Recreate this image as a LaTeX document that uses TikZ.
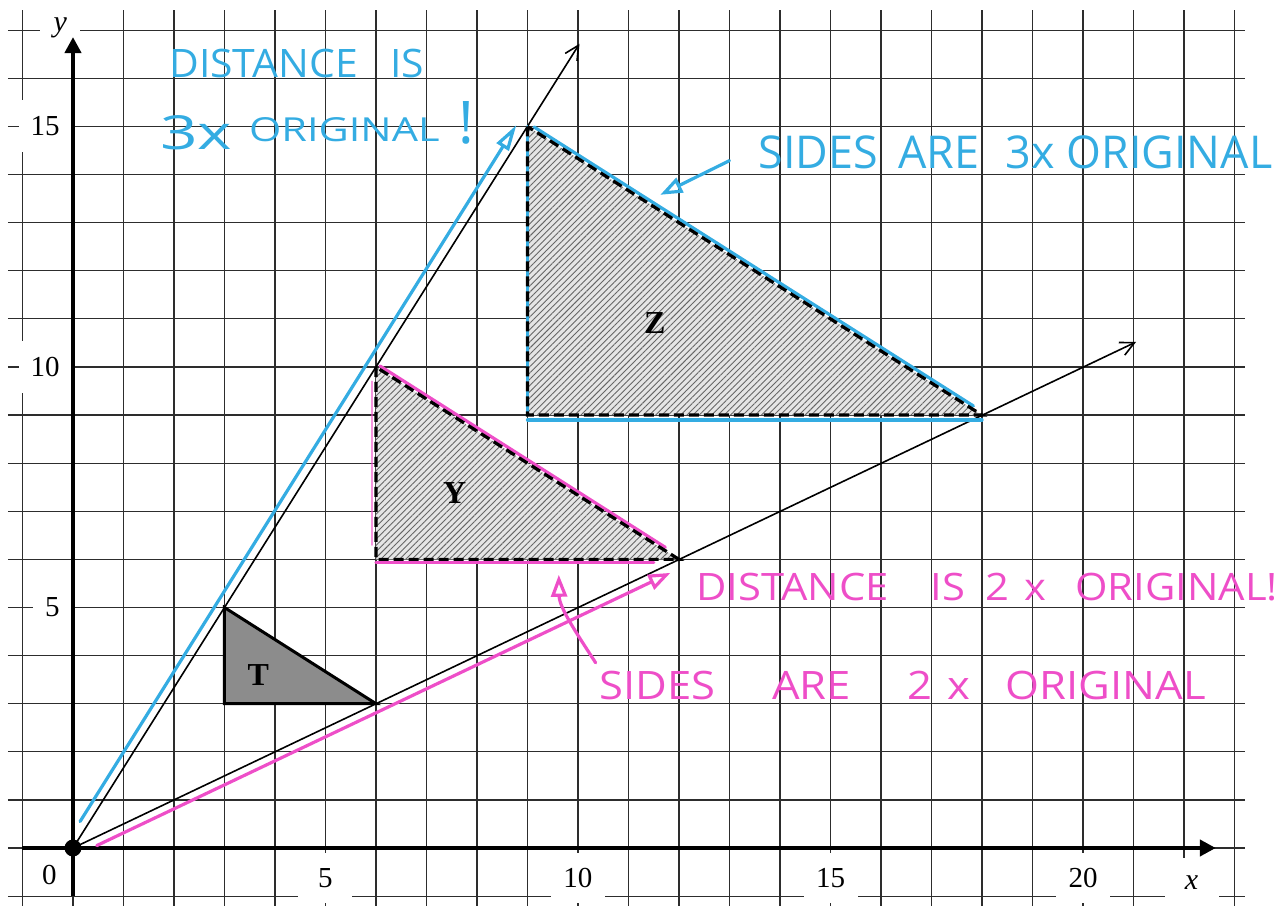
\documentclass[tikz,border=0pt]{standalone}
\usepackage{graphicx}
\usepackage{fontspec}
\setmainfont{Liberation Serif}
\newfontfamily\hand{Open Sans}
\usetikzlibrary{arrows.meta,patterns.meta}
\definecolor{penblue}{RGB}{52,172,226}
\definecolor{penpink}{RGB}{238,78,200}
\definecolor{gridc}{RGB}{45,45,45}
\begin{document}
\begin{tikzpicture}[x=25.25pt,y=24.05pt,
  gridline/.style={gridc,line width=0.6pt},
  axisline/.style={black,line width=2pt,-{Triangle[length=8pt,width=8pt]}},
  ray/.style={black,line width=0.8pt,-{Straight Barb[length=7pt,width=7pt]}},
  bluepen/.style={penblue,line width=1.6pt,line cap=round},
  pinkpen/.style={penpink,line width=1.6pt,line cap=round},
  hatchfill/.style={pattern={Lines[angle=45,distance=2.2pt,line width=0.45pt]},pattern color=black!60},
  dashedge/.style={black,line width=1.6pt,dash pattern=on 5pt off 2.5pt},
  ticklab/.style={font=\fontsize{14.5}{16}\selectfont,fill=white,inner sep=0pt,minimum width=27pt,minimum height=25pt},
  ylab/.style={font=\fontsize{14.5}{16}\selectfont,fill=white,anchor=east,inner xsep=6pt,inner ysep=0pt,minimum height=26pt},
  shapelab/.style={font=\fontsize{16}{18}\selectfont\bfseries},
  handtext/.style={inner sep=0pt,anchor=south west,font=\hand},
]
\useasboundingbox (-1.4455,-1.268) rectangle (24.04,17.63);

% grid
\foreach \i in {-1,...,23} \draw[gridline] (\i,-1.2) -- (\i,17.42);
\foreach \j in {-1,...,17} \draw[gridline] (-1.29,\j) -- (23.2,\j);

% key points
\coordinate (O) at (0,0);
\coordinate (T1) at (3,5);
\coordinate (T2) at (3,3);
\coordinate (T3) at (6,3);
\coordinate (Y1) at (6,10);
\coordinate (Y2) at (6,6);
\coordinate (Y3) at (12,6);
\coordinate (Z1) at (9,15);
\coordinate (Z2) at (9,9);
\coordinate (Z3) at (18,9);
\coordinate (R1) at (10.03,16.72);
\coordinate (R2) at (21.05,10.52);
\coordinate (XA0) at (-1.0,0);
\coordinate (XA1) at (22.63,0);
\coordinate (YA0) at (0,-1.0);
\coordinate (YA1) at (0,16.86);

% tick labels
\node[font=\fontsize{14.5}{16}\selectfont,inner sep=0pt] (l0) at (-0.47,-0.56) {0};
\node[ticklab] (lx5) at (5,-0.62) {5};
\node[ticklab] (lx10) at (10,-0.62) {10};
\node[ticklab] (lx15) at (15,-0.62) {15};
\node[ticklab] (lx20) at (20,-0.62) {20};
\node[ticklab,font=\fontsize{15}{17}\selectfont\itshape] (lxx) at (22.15,-0.72) {x};
\node[ylab] (ly5) at (-0.02,5) {5};
\node[ylab] (ly10) at (-0.02,10) {10};
\node[ylab] (ly15) at (-0.02,15) {15};
\node[fill=white,inner sep=0pt,minimum width=20pt,minimum height=19pt,font=\fontsize{15}{17}\selectfont\itshape] (lyy) at (-0.25,17.05) {y};

% fills
\fill[black!10] (Y1) -- (Y2) -- (Y3) -- cycle;
\fill[hatchfill] (Y1) -- (Y2) -- (Y3) -- cycle;
\fill[black!10] (Z1) -- (Z2) -- (Z3) -- cycle;
\fill[hatchfill] (Z1) -- (Z2) -- (Z3) -- cycle;
\fill[black!45] (T1) -- (T2) -- (T3) -- cycle;

% axes
\draw[axisline] (XA0) -- (XA1);
\draw[axisline] (YA0) -- (YA1);

% rays
\draw[ray] (O) -- (R1);
\draw[ray] (O) -- (R2);

% pen lines
\coordinate (B0) at (0.14,0.55);
\coordinate (B1) at (8.78,15.03);
\coordinate (P0) at (0.47,0.05);
\coordinate (P1) at (11.83,5.72);
\draw[bluepen,-{Triangle[open,length=13pt,width=7pt]}] (B0) -- (B1);
\draw[pinkpen,-{Triangle[open,length=11pt,width=8pt]}] (P0) -- (P1);

\coordinate (BH0) at (9.13,14.99);
\coordinate (BH1) at (17.83,9.19);
\coordinate (BB0) at (9.0,8.9);
\coordinate (BB1) at (18.0,8.9);
\draw[bluepen] (BH0) -- (BH1);
\draw[bluepen] (BB0) -- (BB1);
\draw[bluepen] (Z1) -- (Z2);

\coordinate (PH0) at (6.08,10.02);
\coordinate (PH1) at (11.73,6.25);
\coordinate (PB0) at (6.0,5.94);
\coordinate (PB1) at (11.5,5.94);
\coordinate (PL0) at (5.92,9.7);
\coordinate (PL1) at (5.92,6.3);
\draw[pinkpen] (PH0) -- (PH1);
\draw[pinkpen] (PB0) -- (PB1);
\draw[pinkpen,line width=0.9pt,opacity=0.6] (PL0) -- (PL1);

% outlines
\draw[dashedge] (Y1) -- (Y2) -- (Y3) -- cycle;
\draw[dashedge] (Z1) -- (Z2) -- (Z3) -- cycle;
\draw[black,line width=1.5pt,line join=miter] (T1) -- (T2) -- (T3) -- cycle;

% shape labels
\node[shapelab] (labT) at (3.67,3.6) {T};
\node[shapelab] (labY) at (7.56,7.37) {Y};
\node[shapelab] (labZ) at (11.52,10.91) {Z};

% origin dot
\node[circle,fill=black,inner sep=0pt,minimum size=8.5pt] (dot) at (O) {};

% annotation arrows
\coordinate (BA0) at (13.0,14.29);
\coordinate (BA1) at (11.63,13.58);
\draw[bluepen,-{Triangle[open,length=11pt,width=8pt]}] (BA0) -- (BA1);
\coordinate (PA0) at (10.35,3.85);
\coordinate (PA1) at (9.62,5.68);
\draw[pinkpen,-{Triangle[open,length=11pt,width=8pt]}] (PA0) .. controls (9.95,4.5) and (9.63,5.0) .. (PA1);

% handwritten notes
\node[handtext,text=penblue] (hb1) at (1.9,16.0) {\resizebox{127.5pt}{14.2pt}{DISTANCE\hspace{0.8em}IS}};
\node[handtext,text=penblue] (hb2) at (1.72,14.5) {\resizebox{36pt}{17pt}{3x}};
\node[handtext,text=penblue] (hb3) at (3.48,14.68) {\resizebox{95.2pt}{12pt}{ORIGINAL}};
\node[handtext,text=penblue] (hb4) at (7.62,14.62) {\resizebox{!}{21pt}{!}};
\node[handtext,text=penblue] (hb5) at (13.57,14.1) {\resizebox{256.8pt}{16.4pt}{SIDES\hspace{0.45em}ARE\hspace{0.6em}3x ORIGINAL}};
\node[handtext,text=penpink] (hp1) at (12.33,5.13) {\resizebox{290.9pt}{13.7pt}{DISTANCE\hspace{1.0em}IS\hspace{0.5em}2\hspace{0.35em}x\hspace{0.7em}ORIGINAL!}};
\node[handtext,text=penpink] (hp2) at (10.42,3.07) {\resizebox{303pt}{14.2pt}{SIDES\hspace{1.3em}ARE\hspace{1.3em}2\hspace{0.35em}x\hspace{0.8em}ORIGINAL}};
\end{tikzpicture}
\end{document}
